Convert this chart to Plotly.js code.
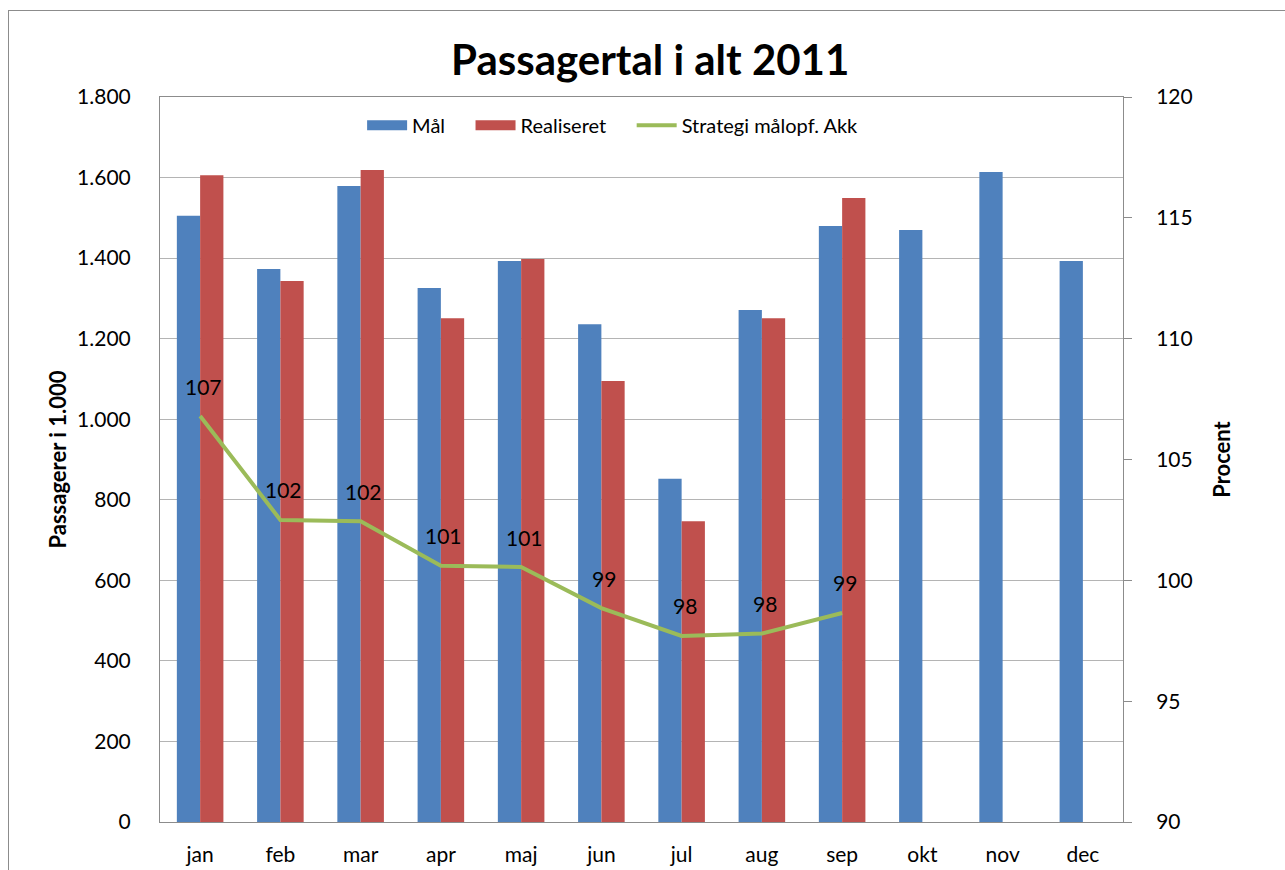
<!DOCTYPE html>
<html>
<head>
<meta charset="utf-8">
<script src="https://cdn.plot.ly/plotly-3.0.1.min.js"></script>
<style>
html,body{margin:0;padding:0;width:1285px;height:870px;overflow:hidden;background:#fff;}
#frame{position:absolute;left:8px;top:10px;width:1400px;height:900px;border:1px solid #8c8c8c;box-sizing:border-box;}
#chart{position:absolute;left:0;top:0;width:1285px;height:870px;}
</style>
</head>
<body>
<div id="frame"></div>
<div id="chart"></div>
<script>
const months = ["jan","feb","mar","apr","maj","jun","jul","aug","sep","okt","nov","dec"];
const maal = [1505,1373,1579,1326,1393,1236,852,1271,1480,1470,1614,1393];
const realiseret = [1606,1343,1619,1251,1398,1095,747,1251,1549,null,null,null];
const strategi = [106.8,102.5,102.45,100.6,100.55,98.85,97.7,97.8,98.65];
const strategiLabels = ["107","102","102","101","101","99","98","98","99"];
const seriesNames = ["Mål","Realiseret","Strategi målopf. Akk"];

const font = "Lato, 'Open Sans', 'DejaVu Sans', sans-serif";
const blue = '#4F81BD', red = '#C0504D', green = '#9BBB59';
const pad = '&nbsp;&nbsp;&nbsp;&nbsp;';

const traces = [
  {type:'bar', name:seriesNames[0], x:months, y:maal, marker:{color:blue}, yaxis:'y', showlegend:false},
  {type:'bar', name:seriesNames[1], x:months, y:realiseret, marker:{color:red}, yaxis:'y', showlegend:false},
  {type:'scatter', mode:'lines', name:seriesNames[2], x:months.slice(0,strategi.length), y:strategi,
   line:{color:green, width:4}, yaxis:'y2', showlegend:false},
  // legend keys
  {type:'scatter', mode:'lines', name:seriesNames[0]+pad, x:[null], y:[null], line:{color:blue, width:14}, yaxis:'y', hoverinfo:'skip'},
  {type:'scatter', mode:'lines', name:seriesNames[1]+pad, x:[null], y:[null], line:{color:red, width:14}, yaxis:'y', hoverinfo:'skip'},
  {type:'scatter', mode:'lines', name:seriesNames[2], x:[null], y:[null], line:{color:green, width:4}, yaxis:'y', hoverinfo:'skip'}
];

const annotations = strategi.map((v,i)=>({
  x: months[i], y: v, xref:'x', yref:'y2', text: strategiLabels[i],
  showarrow:false, yshift:30, xshift:3, font:{size:21, color:'#000', family:font}
}));

const layout = {
  width:1285, height:870,
  margin:{l:160, r:162, t:97, b:48},
  paper_bgcolor:'rgba(0,0,0,0)', plot_bgcolor:'#fff',
  font:{family:font, size:21, color:'#000'},
  title:{text:'<b>Passagertal i alt 2011</b>', font:{size:42, family:font, color:'#000'}, x:0.506, xanchor:'center', y:0.931, yanchor:'middle'},
  barmode:'group', bargap:0.42, bargroupgap:0,
  showlegend:true,
  legend:{orientation:'h', x:0.47, xanchor:'center', y:0.988, yanchor:'top', font:{size:20}, itemwidth:40,
          bgcolor:'rgba(0,0,0,0)', traceorder:'normal'},
  xaxis:{type:'category', showline:true, linecolor:'#8c8c8c', linewidth:1, mirror:true, ticks:'', tickfont:{size:21},
         ticklabelstandoff:14, showgrid:false},
  yaxis:{range:[0,1800], dtick:200, tickformat:',.0f', showgrid:true, gridcolor:'#b4b4b4', gridwidth:1,
         showline:true, linecolor:'#8c8c8c', ticks:'', tickfont:{size:21}, ticklabelstandoff:24,
         title:{text:'<b>Passagerer i 1.000</b>', font:{size:22}, standoff:4}, zeroline:false},
  yaxis2:{range:[90,120], dtick:5, overlaying:'y', side:'right', showgrid:false, showline:true, linecolor:'#8c8c8c',
          ticks:'outside', ticklen:8, tickcolor:'#8c8c8c', tickfont:{size:21}, ticklabelstandoff:20,
          title:{text:'<b>Procent</b>', font:{size:22}, standoff:22}, zeroline:false},
  separators:',.',
  annotations: annotations
};

Plotly.newPlot('chart', traces, layout, {displayModeBar:false, staticPlot:true});
</script>
</body>
</html>
